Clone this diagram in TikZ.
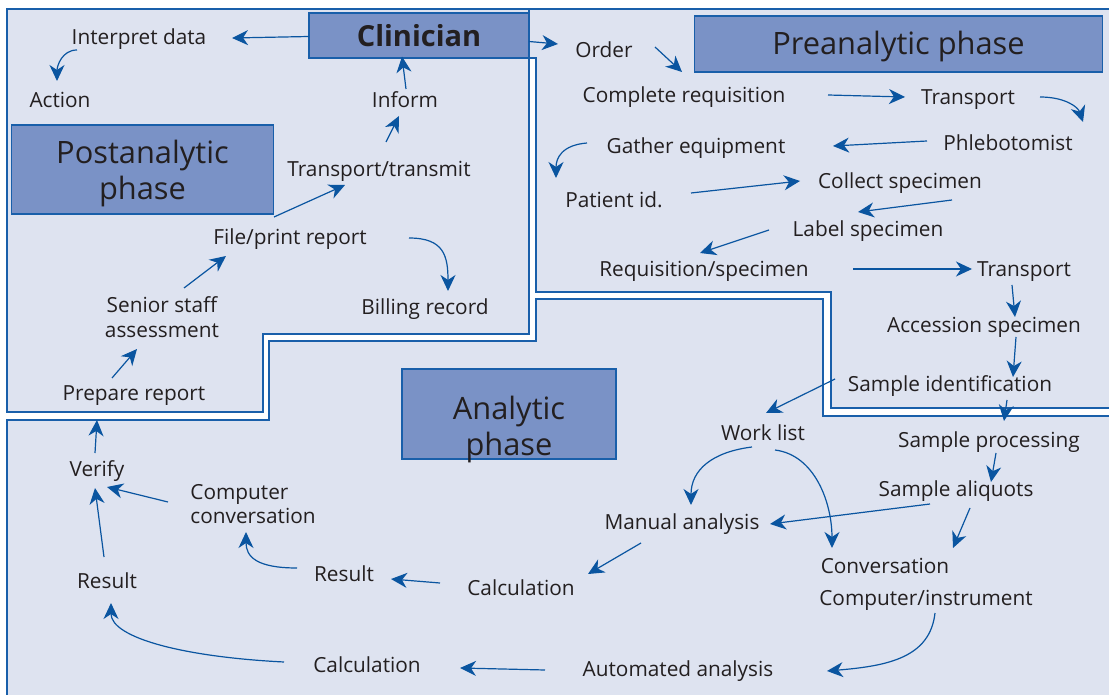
\documentclass[tikz,border=0pt]{standalone}
\usepackage{fontspec}
\setmainfont{Open Sans}
\usepackage{xcolor}
\usepackage{tikz}
\usetikzlibrary{arrows.meta,positioning,calc}
\definecolor{bgBlue}{RGB}{222,227,240}
\definecolor{lineBlue}{RGB}{25,95,170}
\definecolor{phaseBlue}{RGB}{122,146,198}
\definecolor{arrBlue}{RGB}{10,85,160}
\definecolor{txtDark}{RGB}{35,31,32}
\tikzset{
  region/.style={fill=bgBlue, draw=lineBlue, line width=0.7pt},
  phase/.style={rectangle, draw=lineBlue, line width=0.6pt, fill=phaseBlue, align=center, inner sep=0pt, text=txtDark, font=\fontsize{15.4}{18}\selectfont},
  phasetext/.style={align=center, inner sep=0pt, text=txtDark, font=\fontsize{15.4}{18}\selectfont},
  lbltext/.style={align=center, inner sep=1pt, text=txtDark, font=\fontsize{10.4}{12.3}\selectfont},
  lbl/.style={lbltext, text height=7.4pt, text depth=0pt},
  arrow/.style={-{Stealth[length=8pt,width=7.5pt,inset=2.5pt]}, line width=0.6pt, draw=arrBlue}
}
\begin{document}
\begin{tikzpicture}[x=0.5pt, y=-0.5pt]
  \useasboundingbox (0,0) rectangle (1109,695);
  \clip (0,0) rectangle (1109,695);
  \fill[white] (0,0) rectangle (1109,695);
  \draw[region] (7,9) -- (529,9) -- (529,334) -- (263,334) -- (263,412) -- (7,412) -- cycle;
  \draw[region] (529,9) -- (1115,9) -- (1115,408) -- (831,408) -- (831,292) -- (536,292) -- (536,58) -- (529,58) -- cycle;
  \draw[region] (7,700) -- (7,420) -- (269,420) -- (269,341) -- (536,341) -- (536,299) -- (823,299) -- (823,416) -- (1115,416) -- (1115,700) -- cycle;

  \node[phase, minimum width=110pt, minimum height=22.5pt, font=\fontsize{14.5}{17}\selectfont\bfseries] (clin) at (419,35.5) {Clinician};
  \node[phase, minimum width=204pt, minimum height=28pt] (pre) at (898.5,44) {};
  \node[phasetext] (preText) at ($(pre)+(0,3)$) {Preanalytic phase};
  \node[phase, minimum width=131pt, minimum height=44.5pt] (post) at (142.5,169.5) {};
  \node[phasetext] (postText) at ($(post)+(0,4)$) {Postanalytic\\phase};
  \node[phase, minimum width=107pt, minimum height=45pt] (ana) at (509,414) {};
  \node[phasetext] (anaText) at ($(ana)+(0,15)$) {Analytic\\phase};

  \node[lbl] (interp) at (139,37) {Interpret data};
  \node[lbl] (action) at (60,100) {Action};
  \node[lbl] (inform) at (405,100) {Inform};
  \node[lbl] (transm) at (379,169) {Transport/transmit};
  \node[lbl] (fileprt) at (290,237) {File/print report};
  \node[lbltext] (senior) at (162,317) {Senior staff\\assessment};
  \node[lbl] (billing) at (425,307) {Billing record};
  \node[lbl] (prepare) at (134,393) {Prepare report};

  \node[lbl] (order) at (604,50) {Order};
  \node[lbl] (compreq) at (684,95) {Complete requisition};
  \node[lbl] (transpA) at (968,97) {Transport};
  \node[lbl] (gather) at (696,146) {Gather equipment};
  \node[lbl] (phleb) at (1008,143) {Phlebotomist};
  \node[lbl] (patid) at (614,200) {Patient id.};
  \node[lbl] (collect) at (900,181) {Collect specimen};
  \node[lbl] (labelsp) at (868,229) {Label specimen};
  \node[lbl] (reqspec) at (704,269) {Requisition/specimen};
  \node[lbl] (transpB) at (1024,269) {Transport};
  \node[lbl] (access) at (984,325) {Accession specimen};
  \node[lbl] (sampid) at (950,384) {Sample identification};

  \node[lbl] (sampproc) at (989,440) {Sample processing};
  \node[lbl] (worklist) at (763,433) {Work list};
  \node[lbl] (aliquot) at (956,489) {Sample aliquots};
  \node[lbl] (manual) at (682,522) {Manual analysis};
  \node[lbl] (conv) at (885,566) {Conversation};
  \node[lbl] (compinst) at (926,598) {Computer/instrument};
  \node[lbl] (calcA) at (521,588) {Calculation};
  \node[lbl] (resultA) at (344,574) {Result};
  \node[lbltext, align=left] (compconv) at (253,504) {Computer\\conversation};
  \node[lbl] (verify) at (97,469) {Verify};
  \node[lbl] (resultB) at (107,581) {Result};
  \node[lbl] (calcB) at (367,665) {Calculation};
  \node[lbl] (auto) at (678,669) {Automated analysis};

  \draw[arrow] ($(clin)+(-110,1)$) -- ($(interp)+(93,1)$);
  \draw[arrow] ($(interp)+(-62,13)$) .. controls +(-15,0) and +(0,-15) .. ($(action)+(-3,-19)$);
  \draw[arrow] ($(clin)+(110,6)$) -- ($(order)+(-46,-6)$);
  \draw[arrow] ($(order)+(51,-3)$) -- ($(compreq)+(-2,-23)$);
  \draw[arrow] ($(compreq)+(144,0)$) -- ($(transpA)+(-63,0)$);
  \draw[arrow] ($(transpA)+(72,0)$) .. controls +(25,0) and +(-5,-15) .. ($(phleb)+(75,-21)$);
  \draw[arrow] ($(phleb)+(-81,-2)$) -- ($(gather)+(137,0)$);
  \draw[arrow] ($(gather)+(-109,-3)$) .. controls +(-25,2) and +(0,-20) .. ($(patid)+(-58,-22)$);
  \draw[arrow] ($(patid)+(77,-7)$) -- ($(collect)+(-100,0)$);
  \draw[arrow] ($(collect)+(52,19)$) -- ($(labelsp)+(-10,-17)$);
  \draw[arrow] ($(labelsp)+(-99,1)$) -- ($(reqspec)+(-4,-16)$);
  \draw[arrow] ($(reqspec)+(149,0)$) -- ($(transpB)+(-52,0)$);
  \draw[arrow] ($(transpB)+(-12,16)$) -- ($(access)+(31,-8)$);
  \draw[arrow] ($(access)+(32,12)$) -- ($(sampid)+(63,-7)$);
  \draw[arrow] ($(sampid)+(57,16)$) -- ($(sampproc)+(15,-19)$);
  \draw[arrow] ($(sampid)+(-115,-5)$) -- ($(worklist)+(3,-20)$);
  \draw[arrow] ($(sampproc)+(7,13)$) -- ($(aliquot)+(35,-7)$);
  \draw[arrow] ($(worklist)+(-11,14)$) .. controls +(-40,5) and +(0,-35) .. ($(manual)+(9,-17)$);
  \draw[arrow] ($(worklist)+(12,17)$) .. controls +(40,5) and +(0,-45) .. ($(conv)+(-53,-18)$);
  \draw[arrow] ($(aliquot)+(-26,15)$) -- ($(manual)+(88,2)$);
  \draw[arrow] ($(aliquot)+(14,19)$) -- ($(conv)+(68,-18)$);
  \draw[arrow] ($(manual)+(-41,21)$) -- ($(calcA)+(67,-14)$);
  \draw[arrow] ($(compinst)+(9,15)$) .. controls +(-5,45) and +(60,-5) .. ($(auto)+(149,2)$);
  \draw[arrow] ($(auto)+(-133,1)$) -- ($(calcB)+(93,3)$);
  \draw[arrow] ($(calcB)+(-83,-3)$) .. controls +(-100,-5) and +(0,35) .. ($(resultB)+(4,22)$);
  \draw[arrow] ($(resultB)+(-3,-24)$) -- ($(verify)+(-2,19)$);
  \draw[arrow] ($(compconv)+(-85,-2)$) -- ($(verify)+(10,18)$);
  \draw[arrow] ($(resultA)+(-47,-6)$) .. controls +(-40,0) and +(0,25) .. ($(compconv)+(-7,28)$);
  \draw[arrow] ($(calcA)+(-81,-5)$) -- ($(resultA)+(47,5)$);
  \draw[arrow] ($(verify)+(-2,-16)$) -- ($(prepare)+(-37,27)$);
  \draw[arrow] ($(prepare)+(-22,-15)$) -- ($(senior)+(-25,32)$);
  \draw[arrow] ($(senior)+(22,-29)$) -- ($(fileprt)+(-64,19)$);
  \draw[arrow] ($(fileprt)+(-16,-20)$) -- ($(transm)+(-34,16)$);
  \draw[arrow] ($(transm)+(7,-27)$) -- ($(inform)+(-6,16)$);
  \draw[arrow] ($(inform)+(1,-11)$) -- ($(clin)+(-17,21)$);
  \draw[arrow] ($(fileprt)+(119,1)$) .. controls +(35,0) and +(0,-35) .. ($(billing)+(23,-16)$);
\end{tikzpicture}
\end{document}
